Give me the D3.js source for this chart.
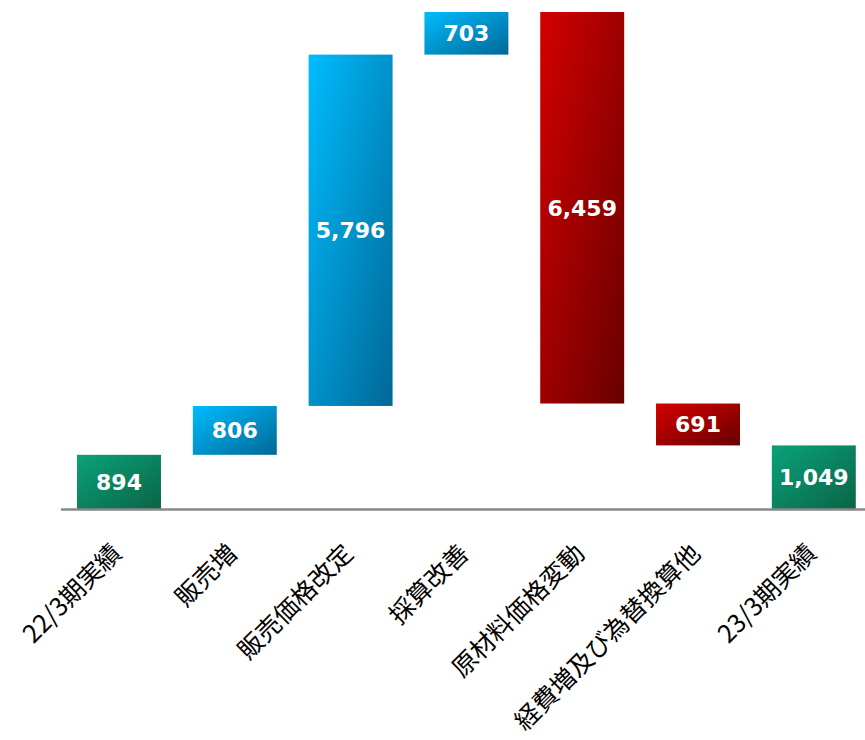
<!DOCTYPE html>
<html>
<head>
<meta charset="utf-8">
<script src="https://cdn.jsdelivr.net/npm/d3@7"></script>
<style>
  body { margin: 0; background: #fff; }
  svg { display: block; }
</style>
</head>
<body>
<div id="chart"></div>
<script>
// 項目名
const categories = ["22/3期実績", "販売増", "販売価格改定", "採算改善", "原材料価格変動", "経費増及び為替換算他", "23/3期実績"];
// 変動額 (total は基準値)
const values = [894, 806, 5796, 703, -6459, -691, 1049];
const types = ["total", "up", "up", "up", "down", "down", "total"];

const W = 865, H = 740;
const baseY = 509;

const svg = d3.select("#chart").append("svg").attr("width", W).attr("height", H);

// グラデーション定義
const defs = svg.append("defs");
const grads = {
  total: ["#0aa27a", "#0a6446"],
  up: ["#00bcff", "#006896"],
  down: ["#d40000", "#680000"]
};
Object.entries(grads).forEach(([k, c]) => {
  const g = defs.append("linearGradient").attr("id", "g-" + k)
    .attr("x1", "0%").attr("y1", "0%").attr("x2", "100%").attr("y2", "100%");
  g.append("stop").attr("offset", "0%").attr("stop-color", c[0]);
  g.append("stop").attr("offset", "100%").attr("stop-color", c[1]);
});

// 累積計算
let run = 0;
const bars = categories.map((c, i) => {
  let y0, y1;
  if (types[i] === "total") { y0 = 0; y1 = values[i]; run = values[i]; }
  else { y0 = run; y1 = run + values[i]; run = y1; }
  return { cat: c, v: values[i], type: types[i], lo: Math.min(y0, y1), hi: Math.max(y0, y1) };
});

const x = d3.scaleBand().domain(categories).range([60.8, 872]).paddingInner(0.275).paddingOuter(0.14);
const y = d3.scaleLinear().domain([0, 8199]).range([baseY, 12]);

svg.selectAll(".bar").data(bars).enter().append("rect")
  .attr("x", d => x(d.cat)).attr("width", x.bandwidth())
  .attr("y", d => y(d.hi)).attr("height", d => y(d.lo) - y(d.hi))
  .attr("fill", d => `url(#g-${d.type})`);

svg.selectAll(".val").data(bars).enter().append("text")
  .attr("x", d => x(d.cat) + x.bandwidth() / 2)
  .attr("y", d => (y(d.hi) + y(d.lo)) / 2)
  .attr("dy", "0.36em")
  .attr("text-anchor", "middle")
  .style("font-family", "'DejaVu Sans', Verdana, sans-serif")
  .style("font-weight", "bold")
  .style("font-size", "22px")
  .attr("fill", "#fff")
  .text(d => d3.format(",")(Math.abs(d.v)));

// 基準線
svg.append("line").attr("x1", 61).attr("x2", W).attr("y1", baseY + 0.5).attr("y2", baseY + 0.5)
  .attr("stroke", "#888").attr("stroke-width", 2.5);

// 項目ラベル
svg.selectAll(".lbl").data(categories).enter().append("text")
  .attr("transform", d => `translate(${x(d) + x.bandwidth() / 2 + 4},555) rotate(-45)`)
  .attr("text-anchor", "end")
  .style("font-family", "'Noto Sans CJK JP', sans-serif")
  .style("font-size", "25px")
  .attr("fill", "#000")
  .text(d => d);
</script>
</body>
</html>
